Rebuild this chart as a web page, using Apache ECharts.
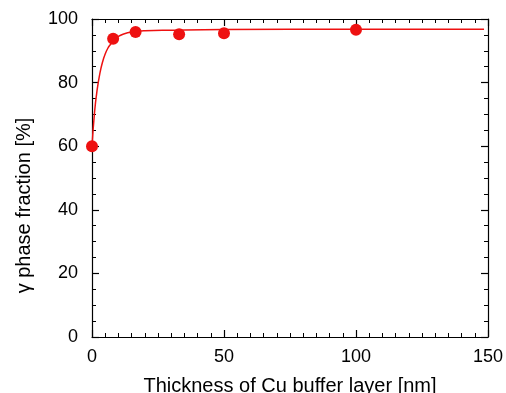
<!DOCTYPE html>
<html><head><meta charset="utf-8">
<script src="https://cdn.jsdelivr.net/npm/echarts@6/dist/echarts.min.js"></script>
<style>html,body{margin:0;padding:0;background:#fff}#c{width:506px;height:393px}</style>
</head><body><div id="c"></div>
<script>
const thickness = [0, 8, 16.5, 33, 50, 100];
const gammaFraction = [60, 93.8, 95.9, 95.2, 95.5, 96.6];
const fitX = [0, 1, 2, 3, 4, 5, 6, 7, 8, 10, 12, 15, 20, 30, 50, 100, 148.5];
const fitY = [60, 71, 78, 83, 86.5, 89, 90.8, 92, 93, 94.5, 95.3, 95.9, 96.3, 96.5, 96.7, 96.8, 96.8];
const xTicks = [0, 50, 100, 150];
const yTicks = [0, 20, 40, 60, 80, 100];

const font = 'Liberation Sans, Arial, Helvetica, sans-serif';
const red = '#ee1111';
const chart = echarts.init(document.getElementById('c'));
const axLine = {show: true, onZero: false, lineStyle: {color: '#000', width: 1.2}};
const tick = {show: true, inside: true, length: 7, lineStyle: {color: '#000', width: 1.2}};
const minor = {show: true, splitNumber: 10, length: 4, lineStyle: {color: '#000', width: 1}};
const minorY = {show: true, splitNumber: 4, length: 4, lineStyle: {color: '#000', width: 1}};
chart.setOption({
  animation: false,
  grid: {left: 92, top: 19, right: 18, bottom: 56, containLabel: false, outerBoundsMode: 'none'},
  xAxis: [{
    type: 'value', min: xTicks[0], max: xTicks[xTicks.length - 1], interval: 50,
    axisLine: axLine, axisTick: tick, minorTick: minor, splitLine: {show: false},
    axisLabel: {color: '#000', fontSize: 18, fontFamily: font, margin: 11},
    name: 'Thickness of Cu buffer layer [nm]', nameLocation: 'middle', nameGap: 39,
    nameTextStyle: {color: '#000', fontSize: 20, fontFamily: font}
  }, {
    type: 'value', position: 'top', min: 0, max: 150, interval: 50,
    axisLine: axLine, axisTick: tick, minorTick: minor, splitLine: {show: false},
    axisLabel: {show: false}
  }],
  yAxis: [{
    type: 'value', min: yTicks[0], max: yTicks[yTicks.length - 1], interval: 20,
    axisLine: axLine, axisTick: tick, minorTick: minorY, splitLine: {show: false},
    axisLabel: {color: '#000', fontSize: 18, fontFamily: font, margin: 14},
    name: 'γ phase fraction [%]', nameLocation: 'middle', nameGap: 58, nameRotate: 90,
    nameTextStyle: {color: '#000', fontSize: 20, fontFamily: font, padding: [0, 55, 0, 0]}
  }, {
    type: 'value', position: 'right', min: 0, max: 100, interval: 20,
    axisLine: axLine, axisTick: tick, minorTick: minorY, splitLine: {show: false},
    axisLabel: {show: false}
  }],
  series: [{
    type: 'line', data: fitX.map((x, i) => [x, fitY[i]]), smooth: true, showSymbol: false,
    lineStyle: {color: red, width: 1.5}, z: 2
  }, {
    type: 'scatter', data: thickness.map((x, i) => [x, gammaFraction[i]]),
    symbolSize: 12, itemStyle: {color: red, opacity: 1}, z: 3
  }]
});
</script></body></html>
